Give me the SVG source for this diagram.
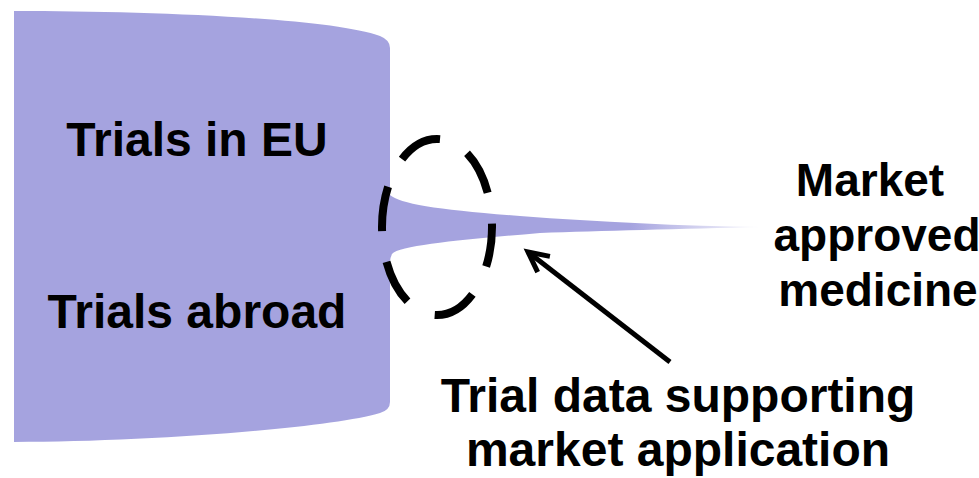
<svg xmlns="http://www.w3.org/2000/svg" width="979" height="478" viewBox="0 0 979 478">
<style>
.lbl{font-family:"Liberation Sans",Arial,sans-serif;font-weight:bold;fill:#000;text-anchor:middle}
.big{font-size:48px}
.mid{font-size:46px}
</style>
<defs>
<linearGradient id="fade" gradientUnits="userSpaceOnUse" x1="14" y1="0" x2="765" y2="0">
<stop offset="0" stop-color="#A5A3DF"/>
<stop offset="0.82" stop-color="#A5A3DF"/>
<stop offset="1" stop-color="#A5A3DF" stop-opacity="0"/>
</linearGradient>
<marker id="arr" markerUnits="userSpaceOnUse" markerWidth="40" markerHeight="40" viewBox="-30 -20 40 40" refX="0" refY="0" orient="auto" overflow="visible">
<path d="M-20,-10 L0,0 L-20,10" fill="none" stroke="#000" stroke-width="5" stroke-linejoin="miter"/>
</marker>
</defs>
<rect width="979" height="478" fill="#fff"/>
<g id="funnel">
<path d="M14,11 C150,11 330,18 380,36 Q390,40 390,48 L390,195 C400,204 440,210 520,216 C600,222 680,226 765,227 C680,229 600,231 540,233 C470,239 400,245 392,254 Q390,258 390,262 L390,402 Q390,410 380,413 C330,428 150,442 14,442 Z" fill="url(#fade)"/>
</g>
<g id="highlight">
<ellipse cx="437" cy="227" rx="55" ry="88" fill="none" stroke="#000" stroke-width="8" stroke-dasharray="45 31" stroke-dashoffset="5"/>
</g>
<g id="connectors">
<line x1="670" y1="362" x2="528" y2="252" stroke="#000" stroke-width="5" marker-end="url(#arr)"/>
</g>
<g id="trials-eu"><text class="lbl big" x="197" y="156">Trials in EU</text></g>
<g id="trials-abroad"><text class="lbl big" x="197" y="328">Trials abroad</text></g>
<g id="market-approved">
<text class="lbl mid" x="870" y="196">Market</text>
<text class="lbl mid" x="877" y="251">approved</text>
<text class="lbl mid" x="878" y="306">medicine</text>
</g>
<g id="trial-data">
<text class="lbl big" x="678" y="412">Trial data supporting</text>
<text class="lbl big" x="678" y="466">market application</text>
</g>
</svg>
